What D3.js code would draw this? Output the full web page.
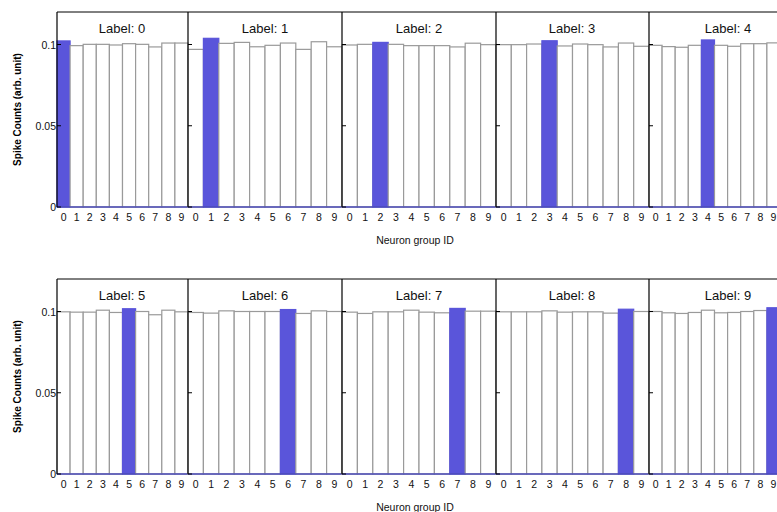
<!DOCTYPE html>
<html>
<head>
<meta charset="utf-8">
<script src="https://cdn.jsdelivr.net/npm/d3@7"></script>
<style>
  body { margin: 0; background: #fff; }
  svg { font-family: "Liberation Sans", Arial, sans-serif; display: block; }
  .tick-label { font-size: 10.5px; fill: #111; }
  .title { font-size: 13px; fill: #111; font-weight: normal; }
  .axis-label { font-size: 10.5px; fill: #111; }
  .ylab { font-size: 10px; font-weight: bold; fill: #000; }
</style>
</head>
<body>
<div id="chart"></div>
<script>
'use strict';

// neuron group ids along each x axis
const neuronIds = [0, 1, 2, 3, 4, 5, 6, 7, 8, 9];
// input label shown in each panel
const labels = [0, 1, 2, 3, 4, 5, 6, 7, 8, 9];
const yTicks = [0, 0.05, 0.1];
const yTickText = ["0", "0.05", "0.1"];

// normalised spike counts, one row per label
const counts0 = [0.1022, 0.0993, 0.1001, 0.1001, 0.0997, 0.1005, 0.1001, 0.0985, 0.1009, 0.1009];
const counts1 = [0.0970, 0.1038, 0.1007, 0.1013, 0.0986, 0.0995, 0.1009, 0.0970, 0.1017, 0.0986];
const counts2 = [0.0997, 0.1001, 0.1013, 0.1001, 0.0993, 0.0993, 0.0993, 0.0985, 0.1008, 0.0999];
const counts3 = [0.0999, 0.0999, 0.1003, 0.1023, 0.0991, 0.1003, 0.0999, 0.0985, 0.1009, 0.0989];
const counts4 = [0.0995, 0.0987, 0.0983, 0.0995, 0.1028, 0.0995, 0.0989, 0.1005, 0.1005, 0.1010];
const counts5 = [0.0998, 0.0996, 0.0996, 0.1008, 0.0994, 0.1017, 0.1000, 0.0980, 0.1008, 0.0998];
const counts6 = [0.0994, 0.0990, 0.1004, 0.1000, 0.1000, 0.1000, 0.1012, 0.0988, 0.1004, 0.1000];
const counts7 = [0.0996, 0.0988, 0.0998, 0.0998, 0.1008, 0.0996, 0.0992, 0.1019, 0.1002, 0.1002];
const counts8 = [0.0998, 0.0998, 0.0998, 0.1004, 0.0996, 0.0998, 0.0998, 0.0990, 0.1014, 0.1000];
const counts9 = [0.1000, 0.0992, 0.0988, 0.0994, 0.1008, 0.0992, 0.0994, 0.1000, 0.1006, 0.1023];
const allCounts = [counts0, counts1, counts2, counts3, counts4, counts5, counts6, counts7, counts8, counts9];

const W = 777, H = 512;
// panel column edges and row frames (layout)
const colEdges = [57, 188, 342, 496, 649, 780];
const titleCenters = [122, 265, 419, 572, 728];
const rows = [{ top: 12, bottom: 207 }, { top: 279, bottom: 474 }];
const blue = "#5a55da";

const svg = d3.select("#chart").append("svg")
  .attr("width", W)
  .attr("height", H);

rows.forEach((row, r) => {
  const y = d3.scaleLinear().domain([0, 0.12]).range([row.bottom, row.top]);

  for (let c = 0; c < 5; c++) {
    const idx = r * 5 + c;
    const label = labels[idx];
    const data = allCounts[idx];
    const x = d3.scaleBand()
      .domain(neuronIds)
      .range([colEdges[c], colEdges[c + 1]])
      .paddingInner(0).paddingOuter(0);

    const g = svg.append("g").attr("class", "panel");

    g.selectAll("rect.bar")
      .data(neuronIds)
      .join("rect")
      .attr("class", "bar")
      .attr("x", d => x(d))
      .attr("width", x.bandwidth())
      .attr("y", d => y(data[d]))
      .attr("height", d => y(0) - y(data[d]))
      .attr("fill", d => d === label ? blue : "#fff")
      .attr("stroke", d => d === label ? blue : "#9a9a9a")
      .attr("stroke-width", 1.2);

    // baseline
    g.append("line")
      .attr("x1", colEdges[c]).attr("x2", colEdges[c + 1])
      .attr("y1", y(0)).attr("y2", y(0))
      .attr("stroke", "#4b4bb8").attr("stroke-width", 1.3);

    // frame: top and left edges
    g.append("line")
      .attr("x1", colEdges[c]).attr("x2", colEdges[c + 1])
      .attr("y1", row.top).attr("y2", row.top)
      .attr("stroke", "#000").attr("stroke-width", 1);
    g.append("line")
      .attr("x1", colEdges[c]).attr("x2", colEdges[c])
      .attr("y1", row.top).attr("y2", row.bottom)
      .attr("stroke", "#000").attr("stroke-width", 1.2);

    // inward y ticks
    g.selectAll("line.ytick")
      .data(yTicks)
      .join("line")
      .attr("class", "ytick")
      .attr("x1", colEdges[c]).attr("x2", colEdges[c] + 4)
      .attr("y1", d => y(d)).attr("y2", d => y(d))
      .attr("stroke", "#000").attr("stroke-width", 1);

    // x tick labels
    g.selectAll("text.xt")
      .data(neuronIds)
      .join("text")
      .attr("class", "xt tick-label")
      .attr("text-anchor", "middle")
      .attr("x", d => x(d) + x.bandwidth() / 2)
      .attr("y", row.bottom + 14)
      .text(d => d);

    g.append("text")
      .attr("class", "title")
      .attr("text-anchor", "middle")
      .attr("x", titleCenters[c])
      .attr("y", row.top + 21)
      .text("Label: " + label);
  }

  // y tick labels on the first panel only
  svg.append("g").selectAll("text")
    .data(yTicks)
    .join("text")
    .attr("class", "tick-label")
    .attr("text-anchor", "end")
    .attr("x", 56)
    .attr("y", d => y(d) + 4)
    .text((d, i) => yTickText[i]);

  svg.append("text")
    .attr("class", "ylab")
    .attr("text-anchor", "middle")
    .attr("transform", "translate(21," + ((row.top + row.bottom) / 2) + ") rotate(-90)")
    .text("Spike Counts (arb. unit)");

  svg.append("text")
    .attr("class", "axis-label")
    .attr("text-anchor", "middle")
    .attr("x", 415)
    .attr("y", row.bottom + 37)
    .text("Neuron group ID");
});
</script>
</body>
</html>
